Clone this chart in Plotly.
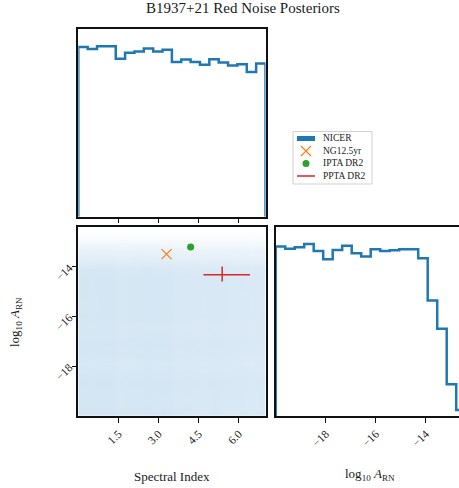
import plotly.graph_objects as go

# ---- data ----
gamma_edges_lo, gamma_edges_hi = 0.0, 7.0
logA_edges_lo, logA_edges_hi = -20.0, -12.4
n_bins = 20

# marginal histogram of spectral index (relative heights)
gamma_hist = [0.907, 0.897, 0.911, 0.911, 0.845, 0.877, 0.883, 0.899, 0.884, 0.893,
              0.827, 0.840, 0.827, 0.813, 0.842, 0.824, 0.808, 0.815, 0.774, 0.819]
# marginal histogram of log10 A_RN (relative heights)
logA_hist = [0.894, 0.883, 0.890, 0.908, 0.871, 0.827, 0.876, 0.898, 0.859, 0.841,
             0.880, 0.871, 0.875, 0.880, 0.880, 0.832, 0.610, 0.461, 0.168, 0.032]

gamma_ticks = [1.5, 3.0, 4.5, 6.0]
gamma_ticktext = ['1.5', '3.0', '4.5', '6.0']
logA_ticks = [-18, -16, -14]

ng_gamma, ng_logA = [3.3], [-13.5]
ipta_gamma, ipta_logA = [4.2], [-13.22]
ppta_gamma, ppta_logA = 5.38, -14.33
ppta_gamma_err = (0.70, 1.04)   # minus, plus
ppta_logA_err = (0.27, 0.33)    # minus, plus

legend_names = ['NICER', 'NG12.5yr', 'IPTA DR2', 'PPTA DR2']

BLUE = '#1f77b4'
ORANGE = '#ff7f0e'
GREEN = '#2ca02c'
RED = '#d62728'

def edges(lo, hi, n):
    w = (hi - lo) / n
    return [lo + i * w for i in range(n + 1)]

def step_xy(e, h):
    xs = [e[0]] + e[:-1] + [e[-1], e[-1]]
    ys = [0] + list(h) + [h[-1], 0]
    return xs, ys

gx_e = edges(gamma_edges_lo, gamma_edges_hi, n_bins)
ay_e = edges(logA_edges_lo, logA_edges_hi, n_bins)
gx_c = [(gx_e[i] + gx_e[i + 1]) / 2 for i in range(n_bins)]
ay_c = [(ay_e[i] + ay_e[i + 1]) / 2 for i in range(n_bins)]

fig = go.Figure()

# top-left histogram
sx, sy = step_xy(gx_e, gamma_hist)
fig.add_trace(go.Scatter(x=sx, y=sy, mode='lines', line=dict(color=BLUE, width=2.5, shape='hv'),
                         showlegend=False, xaxis='x', yaxis='y', hoverinfo='skip'))

# joint density (approximated from the marginals)
z = [[logA_hist[j] * gamma_hist[i] for i in range(n_bins)] for j in range(n_bins)]
zmax = max(max(r) for r in z)
fig.add_trace(go.Heatmap(x=gx_c, y=ay_c, z=z, zmin=0, zmax=zmax, zsmooth='best',
                         colorscale=[[0, '#ffffff'], [0.5, '#e9f2f9'], [1, '#d3e5f3']],
                         showscale=False, xaxis='x2', yaxis='y2', hoverinfo='skip'))

# bottom-right histogram
sx2, sy2 = step_xy(ay_e, logA_hist)
fig.add_trace(go.Scatter(x=sx2, y=sy2, mode='lines', line=dict(color=BLUE, width=2.5, shape='hv'),
                         showlegend=False, xaxis='x3', yaxis='y3', hoverinfo='skip'))

# reference measurements
fig.add_trace(go.Scatter(x=ng_gamma, y=ng_logA, mode='markers', showlegend=False,
                         marker=dict(symbol='x-thin', size=10, line=dict(color=ORANGE, width=1.2)),
                         xaxis='x2', yaxis='y2'))
fig.add_trace(go.Scatter(x=ipta_gamma, y=ipta_logA, mode='markers', showlegend=False,
                         marker=dict(symbol='circle', size=7, color=GREEN),
                         xaxis='x2', yaxis='y2'))
px = [ppta_gamma - ppta_gamma_err[0], ppta_gamma + ppta_gamma_err[1], None, ppta_gamma, ppta_gamma]
py = [ppta_logA, ppta_logA, None, ppta_logA - ppta_logA_err[0], ppta_logA + ppta_logA_err[1]]
fig.add_trace(go.Scatter(x=px, y=py, mode='lines', showlegend=False,
                         line=dict(color=RED, width=1.5), xaxis='x2', yaxis='y2'))

# ---- manual legend drawn on a pixel-unit overlay axis ----
LX0, LX1, LY0, LY1 = 293, 372, 131.5, 184
rows = [138.5, 151, 163.5, 176]
gx = 306
fig.add_trace(go.Scatter(x=[gx], y=[rows[1]], mode='markers', showlegend=False, hoverinfo='skip',
                         marker=dict(symbol='x-thin', size=10, line=dict(color=ORANGE, width=1.2)),
                         xaxis='x4', yaxis='y4'))
fig.add_trace(go.Scatter(x=[gx], y=[rows[2]], mode='markers', showlegend=False, hoverinfo='skip',
                         marker=dict(symbol='circle', size=7, color=GREEN), xaxis='x4', yaxis='y4'))
fig.add_trace(go.Scatter(x=[297, 315], y=[rows[3], rows[3]], mode='lines', showlegend=False, hoverinfo='skip',
                         line=dict(color=RED, width=1.5), xaxis='x4', yaxis='y4'))

W, H = 459, 488
def dx(a, b): return [a / W, b / W]
def dy(top, bot): return [1 - bot / H, 1 - top / H]

FONT = 'Liberation Serif'
TXT = '#1a1a1a'
axis_common = dict(showgrid=False, zeroline=False, showline=True, linecolor='#111', linewidth=1.5,
                   ticks='outside', ticklen=5, tickcolor='#111', tickwidth=1,
                   tickfont=dict(size=11.5, family=FONT, color=TXT))

shapes = [
    dict(type='rect', xref='x4', yref='y4', x0=LX0, x1=LX1, y0=LY0, y1=LY1,
         line=dict(color='#d0d0d0', width=1), fillcolor='white', layer='below'),
    dict(type='rect', xref='x4', yref='y4', x0=297, x1=315, y0=rows[0] - 2.5, y1=rows[0] + 2.5,
         line=dict(width=0), fillcolor=BLUE),
]

annotations = [
    dict(text='B1937+21 Red Noise Posteriors', x=243 / W, y=1 - 8 / H, xref='paper', yref='paper',
         showarrow=False, font=dict(size=15, family=FONT, color=TXT), xanchor='center', yanchor='middle'),
    dict(text='Spectral Index', x=172 / W, y=1 - 476 / H, xref='paper', yref='paper',
         showarrow=False, font=dict(size=13, family=FONT, color=TXT), xanchor='center', yanchor='middle'),
    dict(text='log<sub>10</sub> <i>A</i><sub>RN</sub>', x=370 / W, y=1 - 474 / H, xref='paper', yref='paper',
         showarrow=False, font=dict(size=13, family=FONT, color=TXT), xanchor='center', yanchor='middle'),
    dict(text='log<sub>10</sub> <i>A</i><sub>RN</sub>', x=15 / W, y=1 - 322 / H, xref='paper', yref='paper',
         showarrow=False, textangle=-90, font=dict(size=13, family=FONT, color=TXT),
         xanchor='center', yanchor='middle'),
]
for name, ry in zip(legend_names, rows):
    annotations.append(dict(text=name, x=321, y=ry, xref='x4', yref='y4', showarrow=False,
                            xanchor='left', yanchor='middle', font=dict(size=9.5, family=FONT, color=TXT)))

fig.update_layout(
    width=W, height=H, margin=dict(l=0, r=0, t=0, b=0),
    paper_bgcolor='white', plot_bgcolor='rgba(0,0,0,0)',
    font=dict(family=FONT, color=TXT),
    showlegend=False,
    xaxis=dict(axis_common, domain=dx(78.3, 265.5), range=[gamma_edges_lo, gamma_edges_hi],
               tickvals=gamma_ticks, showticklabels=False, mirror=True, anchor='y'),
    yaxis=dict(axis_common, domain=dy(29.3, 216.7), range=[0, 1.1 * max(gamma_hist)],
               ticks='', showticklabels=False, mirror=True, anchor='x'),
    xaxis2=dict(axis_common, domain=dx(78.3, 265.5), range=[gamma_edges_lo, gamma_edges_hi],
                tickvals=gamma_ticks, ticktext=gamma_ticktext, tickangle=-45,
                mirror=True, anchor='y2'),
    yaxis2=dict(axis_common, domain=dy(226.7, 416), range=[logA_edges_lo, logA_edges_hi],
                tickvals=logA_ticks, tickangle=-45, mirror=True, anchor='x2'),
    xaxis3=dict(axis_common, domain=dx(275.7, 459), range=[logA_edges_lo, logA_edges_lo + (459 - 275.7) / 25.0],
                tickvals=logA_ticks, tickangle=-45, mirror=True, anchor='y3'),
    yaxis3=dict(axis_common, domain=dy(226.7, 416), range=[0, 1.1 * max(logA_hist)],
                ticks='', showticklabels=False, mirror=False, anchor='x3'),
    xaxis4=dict(domain=dx(LX0 - 2, LX1 + 2), range=[LX0 - 2, LX1 + 2], visible=False, anchor='y4'),
    yaxis4=dict(domain=dy(LY0 - 2, LY1 + 2), range=[LY1 + 2, LY0 - 2], visible=False, anchor='x4'),
    shapes=shapes,
    annotations=annotations,
)

fig.write_html('out.html')
